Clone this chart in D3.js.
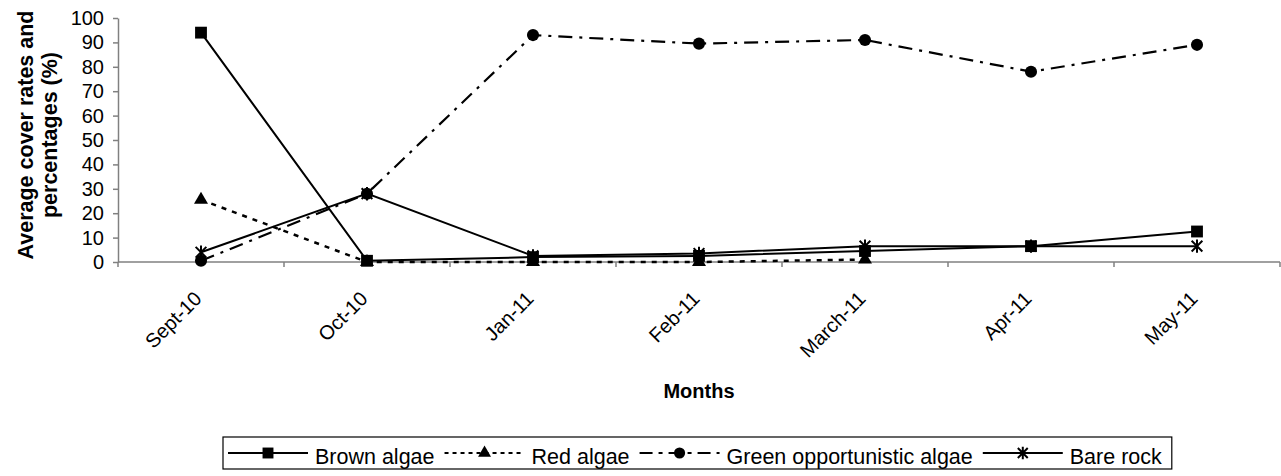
<!DOCTYPE html>
<html>
<head>
<meta charset="utf-8">
<script src="https://cdn.jsdelivr.net/npm/d3@7"></script>
<style>
  html, body { margin: 0; padding: 0; background: #fff; }
  svg { display: block; font-family: "Liberation Sans", Arial, sans-serif; }
</style>
</head>
<body>
<svg id="chart" width="1281" height="476"></svg>
<script>
// Sampling months
const months = ["Sept-10", "Oct-10", "Jan-11", "Feb-11", "March-11", "Apr-11", "May-11"];

// Average cover (%) per group
const brownAlgae = [94, 0.5, 2, 2.5, 4.5, 6.5, 12.5];
const redAlgae   = [25.5, 0, 0, 0, 1, null, null];
const greenAlgae = [0.5, 28, 93, 89.5, 91, 78, 89];
const bareRock   = [4, 28, 2.5, 3.5, 6.5, 6.5, 6.5];

// Y axis tick labels
const yTicks = [0, 10, 20, 30, 40, 50, 60, 70, 80, 90, 100];

// Asterisk marker: an X crossed by a vertical stroke
const starSymbol = {
  draw(ctx, size) {
    const r = Math.sqrt(size) / 2;
    const d = r * 0.8;
    ctx.moveTo(0, -r); ctx.lineTo(0, r);
    ctx.moveTo(-d, -d); ctx.lineTo(d, d);
    ctx.moveTo(-d, d); ctx.lineTo(d, -d);
  }
};

const seriesList = [
  { name: "Brown algae", values: brownAlgae, dash: null, legendDash: null, width: 2, symbol: d3.symbolSquare, size: 140, filled: true },
  { name: "Red algae", values: redAlgae, dash: "5,6", legendDash: "4,4", width: 2.5, symbol: d3.symbolTriangle, size: 85, filled: true },
  { name: "Green opportunistic algae", values: greenAlgae, dash: "14,7,3,7", legendDash: "13,6,4,6", width: 2.2, symbol: d3.symbolCircle, size: 115, filled: true },
  { name: "Bare rock", values: bareRock, dash: null, legendDash: null, width: 2, symbol: starSymbol, size: 180, filled: false }
];

const svg = d3.select("#chart");
const plotLeft = 118, plotRight = 1280, plotTop = 18, plotBottom = 262;

const x = d3.scaleBand().domain(months).range([plotLeft, plotRight]).padding(0);
const y = d3.scaleLinear().domain([0, 100]).range([plotBottom, plotTop]);
const cx = m => x(m) + x.bandwidth() / 2;

const axisColor = "#808080";

// Y axis
const yAxis = svg.append("g")
  .attr("transform", `translate(${plotLeft},0)`)
  .call(d3.axisLeft(y).tickValues(yTicks).tickSize(5).tickPadding(9).tickSizeOuter(0));
yAxis.select(".domain").attr("stroke", axisColor).attr("stroke-width", 1.5);
yAxis.selectAll(".tick line").attr("stroke", axisColor).attr("stroke-width", 1.5);
yAxis.selectAll(".tick text").attr("font-size", 20).attr("fill", "#000")
  .attr("font-family", "Liberation Sans, Arial, sans-serif");

// X axis: tick marks sit on the category boundaries
const boundaries = months.map(m => x(m)).concat([x.range()[1]]);
const xAxisG = svg.append("g").attr("transform", `translate(0,${plotBottom})`);
xAxisG.append("line")
  .attr("x1", x.range()[0]).attr("x2", x.range()[1])
  .attr("y1", 0).attr("y2", 0)
  .attr("stroke", axisColor).attr("stroke-width", 1.5);
xAxisG.selectAll(".bound").data(boundaries).join("line")
  .attr("class", "bound")
  .attr("x1", d => d).attr("x2", d => d)
  .attr("y1", 0).attr("y2", 5)
  .attr("stroke", axisColor).attr("stroke-width", 1.5);
xAxisG.selectAll(".xlab").data(months).join("text")
  .attr("class", "xlab")
  .attr("text-anchor", "end")
  .attr("font-size", 20)
  .attr("transform", d => `translate(${cx(d) - 3},${33}) rotate(-45)`)
  .attr("dy", "0.35em")
  .text(d => d);

// Axis titles
svg.append("text")
  .attr("x", (plotLeft + plotRight) / 2).attr("y", 398)
  .attr("text-anchor", "middle")
  .attr("font-size", 20).attr("font-weight", "bold")
  .text("Months");

const yTitle = svg.append("text")
  .attr("transform", `translate(0,${135}) rotate(-90)`)
  .attr("text-anchor", "middle")
  .attr("font-size", 21.5).attr("font-weight", "bold");
yTitle.append("tspan").attr("x", 0).attr("y", 33).text("Average cover rates and");
yTitle.append("tspan").attr("x", 0).attr("y", 57).text("percentages (%)");

// Series lines and markers
const plot = svg.append("g");
seriesList.forEach(s => {
  const pts = months.map((m, i) => ({ m, v: s.values[i] })).filter(p => p.v !== null);
  const line = d3.line().x(p => cx(p.m)).y(p => y(p.v));
  plot.append("path")
    .datum(pts)
    .attr("d", line)
    .attr("fill", "none")
    .attr("stroke", "#000")
    .attr("stroke-width", s.width)
    .attr("stroke-dasharray", s.dash);
  plot.selectAll(null).data(pts).join("path")
    .attr("transform", p => `translate(${cx(p.m)},${y(p.v)})`)
    .attr("d", d3.symbol().type(s.symbol).size(s.size))
    .attr("fill", s.filled ? "#000" : "none")
    .attr("stroke", "#000")
    .attr("stroke-width", s.filled ? 0 : 2);
});

// Legend
const legend = svg.append("g");
const legBox = legend.append("rect")
  .attr("y", 437).attr("height", 32)
  .attr("fill", "#fff").attr("stroke", "#000").attr("stroke-width", 1.2);
const legendY = 456;
let cursor = 228;
const boxLeft = 223;
seriesList.forEach(s => {
  const g = legend.append("g");
  g.append("line")
    .attr("x1", cursor).attr("x2", cursor + 80)
    .attr("y1", legendY - 3).attr("y2", legendY - 3)
    .attr("stroke", "#000").attr("stroke-width", 2)
    .attr("stroke-dasharray", s.legendDash);
  g.append("path")
    .attr("transform", `translate(${cursor + 40},${legendY - 3})`)
    .attr("d", d3.symbol().type(s.symbol).size(s.size * 0.85))
    .attr("fill", s.filled ? "#000" : "none")
    .attr("stroke", "#000")
    .attr("stroke-width", s.filled ? 0 : 2);
  const t = g.append("text")
    .attr("x", cursor + 87).attr("y", legendY)
    .attr("dy", "0.35em")
    .attr("font-size", 21.5)
    .text(s.name);
  cursor = cursor + 87 + t.node().getComputedTextLength() + 10;
});
legBox.attr("x", boxLeft).attr("width", cursor - boxLeft);
</script>
</body>
</html>
